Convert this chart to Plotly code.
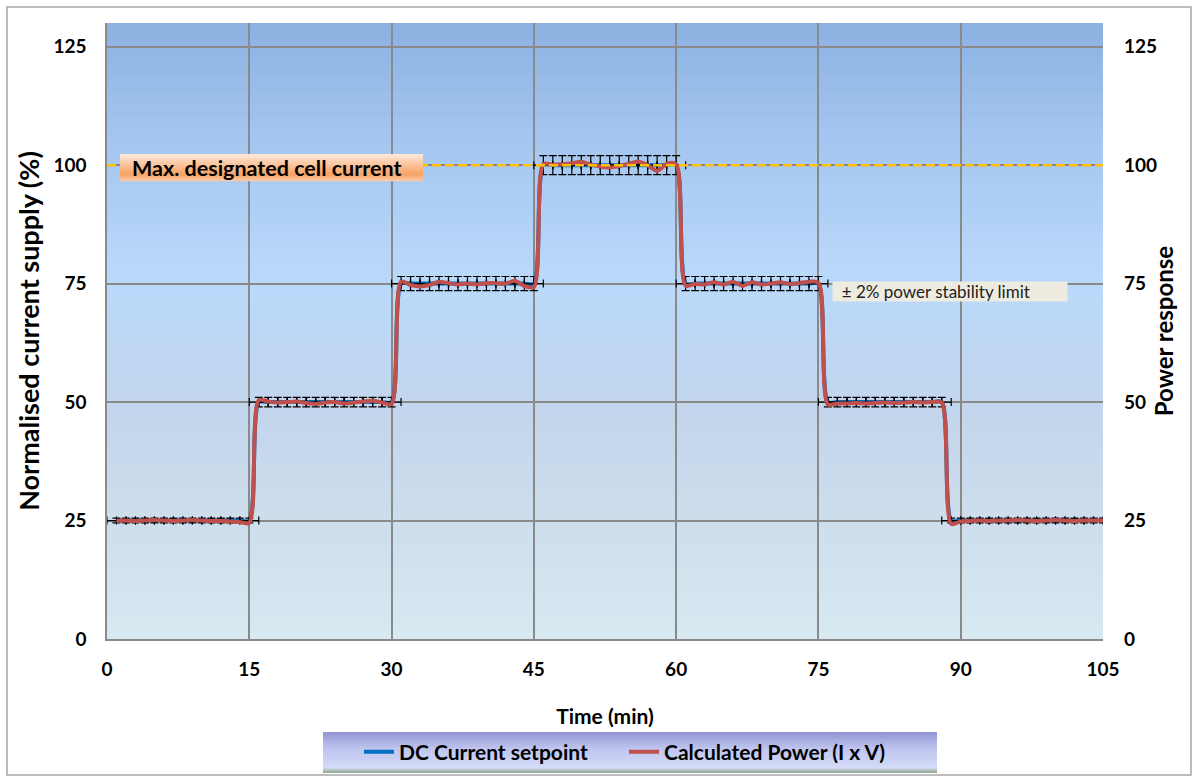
import plotly.graph_objects as go

# ---------------- data ----------------
time_min = [1, 2, 3, 4, 5, 6, 7, 8, 9, 10, 11, 12, 13, 14, 15,
            16, 17, 18, 19, 20, 21, 22, 23, 24, 25, 26, 27, 28, 29, 30,
            31, 32, 33, 34, 35, 36, 37, 38, 39, 40, 41, 42, 43, 44, 45,
            46, 47, 48, 49, 50, 51, 52, 53, 54, 55, 56, 57, 58, 59, 60,
            61, 62, 63, 64, 65, 66, 67, 68, 69, 70, 71, 72, 73, 74, 75,
            76, 77, 78, 79, 80, 81, 82, 83, 84, 85, 86, 87, 88,
            89, 90, 91, 92, 93, 94, 95, 96, 97, 98, 99, 100, 101, 102, 103, 104, 105]

dc_setpoint = [25, 25, 25, 25, 25, 25, 25, 25, 25, 25, 25, 25, 25, 25, 25,
               50, 50, 50, 50, 50, 50, 50, 50, 50, 50, 50, 50, 50, 50, 50,
               75, 75, 75, 75, 75, 75, 75, 75, 75, 75, 75, 75, 75, 75, 75,
               100, 100, 100, 100, 100, 100, 100, 100, 100, 100, 100, 100, 100, 100, 100,
               75, 75, 75, 75, 75, 75, 75, 75, 75, 75, 75, 75, 75, 75, 75,
               50, 50, 50, 50, 50, 50, 50, 50, 50, 50, 50, 50, 50,
               25, 25, 25, 25, 25, 25, 25, 25, 25, 25, 25, 25, 25, 25, 25, 25, 25]

calc_power = [24.9, 25.0, 24.9, 25.0, 25.1, 25.0, 24.9, 25.0, 25.1, 25.0, 24.9, 24.9, 24.8, 24.7, 24.5,
              50.4, 50.1, 49.9, 50.0, 50.1, 49.8, 49.6, 49.9, 50.0, 49.7, 49.9, 50.1, 50.3, 49.9, 49.6,
              75.4, 74.7, 74.4, 74.7, 75.4, 75.1, 74.8, 75.0, 74.8, 75.1, 75.1, 75.0, 75.6, 74.5, 74.3,
              100.2, 100.1, 100.2, 100.4, 100.7, 100.1, 99.7, 99.5, 99.8, 100.3, 100.7, 100.0, 98.8, 100.3, 100.2,
              74.6, 74.9, 74.8, 75.3, 74.8, 75.4, 74.5, 75.3, 74.8, 75.0, 75.3, 74.9, 75.1, 75.4, 75.2,
              49.5, 49.7, 49.7, 49.8, 49.7, 49.8, 49.9, 49.8, 49.9, 50.0, 49.9, 50.0, 49.9,
              24.3, 24.8, 24.9, 25.0, 24.9, 25.0, 25.0, 25.1, 25.0, 24.9, 25.0, 25.1, 25.0, 24.9, 25.0, 25.0, 25.0]

x_ticks = [0, 15, 30, 45, 60, 75, 90, 105]
y_ticks = [0, 25, 50, 75, 100, 125]
max_current = 100
stability_pct = 2
time_err = 1

FONT = "Lato"

# ---------------- helpers ----------------
def hex2rgb(h):
    h = h.lstrip('#')
    return tuple(int(h[i:i + 2], 16) for i in (0, 2, 4))


def interp(stops, t):
    for (t0, c0), (t1, c1) in zip(stops[:-1], stops[1:]):
        if t0 <= t <= t1:
            f = 0 if t1 == t0 else (t - t0) / (t1 - t0)
            a, b = hex2rgb(c0), hex2rgb(c1)
            return 'rgb(%d,%d,%d)' % tuple(round(a[i] + (b[i] - a[i]) * f) for i in range(3))
    return stops[-1][1]


shapes = []


def gradient(x0, x1, y0, y1, stops, n, xref, yref, layer):
    # stops from bottom (0) to top (1); each band runs to the top so no seams show
    for i in range(n):
        ya = y0 + (y1 - y0) * i / n
        shapes.append(dict(type='rect', xref=xref, yref=yref, x0=x0, x1=x1, y0=ya, y1=y1,
                           fillcolor=interp(stops, (i + 0.5) / n), line=dict(width=0), layer=layer))


# plot background gradient
bg_stops = [(0.0, '#D8E9F1'), (0.2, '#CDDDEC'), (0.35, '#C4D6EC'), (0.59, '#B9D9FB'),
            (0.8, '#A5C7F0'), (1.0, '#8CB1E2')]
gradient(0, 1, 0, 1, bg_stops, 80, 'paper', 'paper', 'below')

# dashed max line
shapes.append(dict(type='line', xref='x', yref='y', x0=0, x1=105, y0=max_current, y1=max_current,
                   line=dict(color='#FFC000', width=2.5, dash='9px,4px'), layer='above'))

# annotation box gradient (Max designated)
box_stops = [(0.0, '#FBCDAE'), (0.25, '#F7A263'), (0.5, '#FAB98A'), (1.0, '#FDE9DB')]
gradient(1.37, 33.3, 96.6, 102.3, box_stops, 20, 'x', 'y', 'above')

# legend box gradient
L = 107.0
W = 996.0
H = 616.0
B = 639.0


def px(xp):
    return (xp - L) / W


def py(yp):
    return (B - yp) / H


leg_stops = [(0.0, '#8FA38F'), (0.07, '#B5C2C0'), (0.12, '#D4DCF8'), (0.6, '#BEC4EE'), (1.0, '#9394D4')]
gradient(px(323), px(937), py(773), py(732), leg_stops, 24, 'paper', 'paper', 'above')

# figure border
shapes.append(dict(type='rect', xref='paper', yref='paper', x0=px(7), x1=px(1191), y0=py(775), y1=py(7),
                   line=dict(color='#A6A6A6', width=1.5), fillcolor='rgba(0,0,0,0)', layer='above'))

# ---------------- traces ----------------
fig = go.Figure()

fig.add_trace(go.Scatter(
    x=time_min, y=dc_setpoint, name='DC Current setpoint', mode='lines',
    line=dict(color='#0070C0', width=4, shape='spline', smoothing=0.8),
))

fig.add_trace(go.Scatter(
    x=time_min, y=dc_setpoint, mode='markers', showlegend=False, hoverinfo='skip',
    marker=dict(size=1, color='rgba(0,0,0,0)'),
    error_y=dict(type='percent', value=stability_pct, color='black', thickness=1.2, width=4),
    error_x=dict(type='constant', value=time_err, color='black', thickness=1.2, width=4),
))

fig.add_trace(go.Scatter(
    x=time_min, y=calc_power, name='Calculated Power (I x V)', mode='lines', yaxis='y2',
    line=dict(color='#C0504D', width=4, shape='spline', smoothing=0.8),
))

# ---------------- layout ----------------
tickfont = dict(family=FONT, size=19, color='black', weight='bold')

fig.update_layout(
    width=1199, height=782,
    margin=dict(l=107, r=96, t=23, b=143, autoexpand=False),
    paper_bgcolor='white', plot_bgcolor='rgba(0,0,0,0)',
    shapes=shapes,
    xaxis=dict(range=[0, 105], tickvals=x_ticks, showgrid=True, gridcolor='#8A8A8A', gridwidth=1.5,
               zeroline=False, showline=True, linecolor='#8A8A8A', linewidth=1.5, ticks='',
               tickfont=tickfont, ticklabelstandoff=12,
               title=dict(text='Time (min)', font=dict(family=FONT, size=21, color='black', weight='bold'),
                          standoff=31)),
    yaxis=dict(range=[0, 130], tickvals=y_ticks, showgrid=True, gridcolor='#8A8A8A', gridwidth=1.5,
               zeroline=False, showline=True, linecolor='#8A8A8A', linewidth=1.5, ticks='',
               tickfont=tickfont, ticklabelstandoff=15,
               title=dict(text='Normalised current supply (%)',
                          font=dict(family=FONT, size=27, color='black', weight='bold'), standoff=6)),
    yaxis2=dict(range=[0, 130], tickvals=y_ticks, overlaying='y', side='right', showgrid=False,
                zeroline=False, showline=False, ticks='', tickfont=tickfont, ticklabelstandoff=20,
                title=dict(text='Power response',
                           font=dict(family=FONT, size=24, color='black', weight='bold'), standoff=0)),
    legend=dict(orientation='h', x=px(359), xanchor='left', y=py(752), yanchor='middle',
                bgcolor='rgba(0,0,0,0)', font=dict(family=FONT, size=21, color='black', weight='bold'),
                entrywidth=220, entrywidthmode='pixels', itemwidth=30),
    annotations=[
        dict(x=16.8, y=99.5, xref='x', yref='y', text='Max. designated cell current', showarrow=False,
             font=dict(family=FONT, size=21.5, color='black', weight='bold')),
        dict(x=88.87, y=73.3, xref='x', yref='y', text='\u00a0\u00a0± 2% power stability limit',
             showarrow=False, align='left', valign='middle', width=234, height=19, borderpad=0,
             bgcolor='#EEECE1', font=dict(family=FONT, size=17, color='#222222')),
    ],
)

fig.write_html('out.html', config={'displayModeBar': False},
               post_script="document.body.style.margin='0px';")
